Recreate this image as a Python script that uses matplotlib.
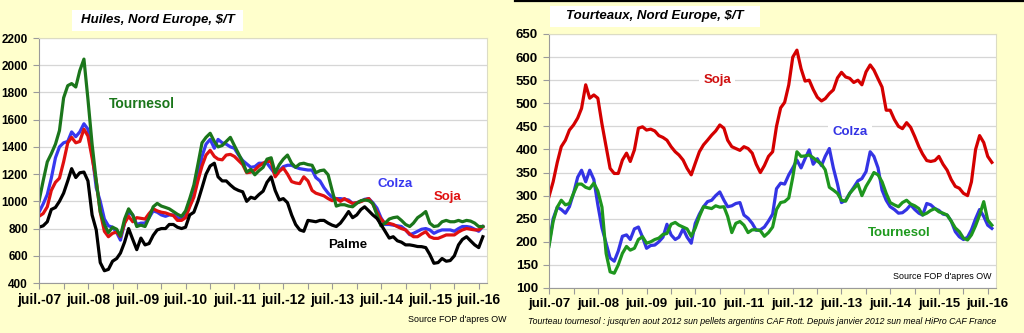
import numpy as np
import pandas as pd
import matplotlib
matplotlib.use("Agg")
import matplotlib.pyplot as plt
from matplotlib.patches import Rectangle
from matplotlib.lines import Line2D

plt.rcParams["font.family"] = ["Liberation Sans", "DejaVu Sans"]

# monthly points, juil.-07 .. août-16
months = pd.date_range("2007-07-01", periods=110, freq="MS")
tick_dates = pd.date_range("2007-07-01", "2016-07-01", freq="6MS")
tick_labels = [f"juil.-{d:%y}" if d.month == 7 else "" for d in tick_dates]

# --- Huiles, $/T ---
tournesol_huile = [1000, 1150, 1290, 1350, 1420, 1520, 1760, 1850, 1865, 1840, 1960, 2045,
                   1750, 1420, 1150, 924, 830, 770, 810, 795, 745, 870, 945, 900,
                   815, 825, 815, 880, 960, 985, 965, 955, 945, 925, 905, 890,
                   930, 1020, 1120, 1270, 1430, 1470, 1500, 1440, 1400, 1410, 1440, 1470,
                   1410, 1350, 1290, 1215, 1235, 1195, 1225, 1250, 1310, 1320, 1210, 1270,
                   1310, 1340, 1280, 1250, 1275, 1280, 1270, 1265, 1210, 1225, 1230, 1195,
                   1080, 965, 975, 975, 965, 960, 985, 1005, 1010, 1005, 985, 900,
                   820, 840, 870, 880, 885, 860, 830, 815, 840, 880, 900, 925,
                   840, 815, 820, 850, 860, 850, 850, 860, 850, 860, 855, 840,
                   815, 815]
colza_huile = [920, 980, 1050, 1170, 1320, 1400, 1430, 1440, 1510, 1475, 1510, 1570,
               1530, 1350, 1100, 1000, 870, 820, 810, 770, 715, 840, 920, 900,
               830, 840, 840, 880, 930, 920, 900, 890, 900, 900, 880, 875,
               900, 970, 1050, 1180, 1330, 1420, 1455, 1390, 1455, 1430, 1420, 1400,
               1390, 1340, 1300, 1275, 1250, 1255, 1280, 1280, 1280, 1240, 1200, 1225,
               1255, 1265, 1265, 1250, 1240, 1235, 1230, 1230, 1175, 1150, 1100, 1060,
               1030, 1020, 1020, 1015, 1010, 985, 990, 1000, 1015, 1020, 990, 950,
               880, 830, 830, 825, 820, 815, 790, 755, 765, 780, 795, 800,
               790, 765, 780, 790, 790, 790, 780, 800, 815, 815, 810, 795,
               780, 815]
soja_huile = [890, 910, 960, 1080, 1140, 1170, 1290, 1430, 1470, 1430, 1440, 1530,
              1480, 1320, 1150, 920, 780, 740, 765, 775, 740, 840, 890, 850,
              880, 875, 870, 910, 945, 930, 920, 915, 905, 895, 860, 860,
              880, 960, 1030, 1150, 1260, 1340, 1375, 1330, 1310, 1305, 1340, 1345,
              1330, 1300, 1270, 1210, 1215, 1230, 1260, 1280, 1295, 1290, 1180, 1220,
              1245, 1200, 1145, 1135, 1130, 1180, 1150, 1080, 1060, 1050, 1040, 1020,
              1005, 1020, 1000, 1020, 1000, 985, 990, 998, 1010, 1020, 980, 920,
              870, 838, 838, 830, 814, 800, 790, 760, 740, 740, 760, 777,
              740, 728, 728, 740, 753, 753, 753, 775, 790, 800, 795, 790,
              790, 814]
palme_huile = [810, 820, 850, 940, 955, 1000, 1060, 1150, 1240, 1175, 1210, 1215,
               1150, 900, 790, 550, 490, 500, 560, 580, 620, 700, 800, 720,
               645, 730, 680, 690, 750, 790, 800, 800, 830, 830, 810, 800,
               810, 900, 920, 1000, 1100, 1200, 1260, 1280, 1180, 1150, 1150, 1120,
               1095, 1080, 1070, 1000, 1030, 1020, 1050, 1075, 1140, 1180, 1080, 1010,
               1020, 990, 900, 830, 790, 780, 860, 855, 850, 860, 860, 840,
               825, 815, 840, 880, 925, 880, 900, 940, 960, 930, 900, 875,
               830, 780, 730, 740, 710, 700, 680, 680, 675, 668, 667, 660,
               610, 545, 550, 580, 560, 565, 600, 680, 720, 740, 710, 680,
               660, 740]

# --- Tourteaux, $/T ---
soja_tourteau = [298, 330, 372, 406, 420, 442, 453, 468, 489, 540, 511, 518,
                 511, 455, 406, 359, 348, 348, 377, 392, 374, 399, 446, 449,
                 442, 444, 440, 430, 426, 420, 406, 395, 388, 377, 359, 345,
                 370, 395, 410, 420, 431, 440, 453, 446, 420, 406, 402, 398,
                 406, 402, 392, 368, 350, 365, 385, 395, 450, 490, 502, 540,
                 600, 615, 575, 548, 550, 530, 513, 505, 510, 521, 529, 555,
                 567, 557, 554, 545, 550, 540, 568, 583, 572, 553, 535, 485,
                 485, 465, 450, 445, 458, 448, 428, 406, 390, 376, 374, 376,
                 385, 368, 355, 335, 320, 316, 305, 300, 330, 400, 430, 415,
                 385, 372]
colza_tourteau = [195, 250, 275, 270, 262, 276, 305, 340, 355, 330, 355, 335,
                  280, 230, 197, 165, 158, 180, 212, 215, 205, 228, 232, 210,
                  186, 192, 193, 200, 210, 238, 215, 205, 210, 228, 210, 197,
                  240, 260, 276, 287, 290, 300, 308, 290, 276, 278, 283, 285,
                  258, 251, 240, 225, 226, 232, 245, 260, 315, 327, 325, 345,
                  360, 377, 360, 380, 399, 368, 380, 365, 385, 402, 360, 325,
                  285, 290, 305, 318, 332, 337, 352, 395, 385, 360, 312, 290,
                  276, 270, 262, 263, 270, 280, 270, 262, 258, 283, 280, 272,
                  268, 260, 258, 245, 222, 211, 205, 210, 226, 250, 270, 255,
                  236, 229]
tournesol_tourteau = [190, 244, 275, 290, 280, 283, 305, 325, 325, 318, 315, 327,
                      310, 275, 175, 135, 132, 150, 175, 190, 182, 186, 205, 211,
                      197, 200, 205, 208, 216, 218, 238, 242, 236, 232, 228, 212,
                      230, 255, 276, 274, 272, 278, 275, 276, 255, 220, 240, 244,
                      236, 220, 226, 226, 224, 212, 220, 232, 270, 285, 287, 295,
                      340, 395, 385, 386, 388, 382, 375, 368, 356, 318, 312, 305,
                      290, 288, 305, 315, 325, 300, 320, 335, 350, 345, 330, 305,
                      285, 280, 276, 285, 290, 282, 278, 272, 258, 262, 268, 272,
                      265, 262, 258, 245, 230, 222, 208, 204, 215, 235, 258, 287,
                      247, 236]

BG = "#FFFFCC"


def style_axes(ax, ylim, ystep, ysize, xsize):
    ax.set_facecolor("white")
    ax.set_xlim(months[0], pd.Timestamp("2016-09-01"))
    ax.set_ylim(*ylim)
    ax.set_yticks(np.arange(ylim[0], ylim[1] + 1, ystep))
    ax.set_xticks(tick_dates)
    ax.set_xticklabels(tick_labels)
    ax.grid(axis="y", color="#d6d6d6", linewidth=0.9)
    ax.set_axisbelow(True)
    for s in ("top", "right"):
        ax.spines[s].set_color("#dcdcc4")
    for s in ("left", "bottom"):
        ax.spines[s].set_color("#9a9a9a")
    ax.tick_params(axis="both", direction="out", length=4, width=0.8, color="#9a9a9a")
    ax.tick_params(axis="y", labelsize=ysize, pad=4)
    ax.tick_params(axis="x", labelsize=xsize, pad=3)
    for lab in ax.get_xticklabels() + ax.get_yticklabels():
        lab.set_fontweight("bold")


def title_box(fig, x0, x1, y0, y1, text):
    W, H = 1024, 333
    fig.patches.append(Rectangle((x0 / W, 1 - y1 / H), (x1 - x0) / W, (y1 - y0) / H,
                                 transform=fig.transFigure, facecolor="white",
                                 edgecolor="none"))
    fig.text((x0 + x1) / 2 / W, 1 - (y0 + y1) / 2 / H, text, ha="center", va="center",
             fontsize=9.5, fontweight="bold", fontstyle="italic")


fig = plt.figure(figsize=(10.24, 3.33), dpi=100, facecolor=BG)

# left panel: oils
ax1 = fig.add_axes([39 / 1024, 50 / 333, 448 / 1024, 245 / 333])
style_axes(ax1, (400, 2200), 200, 8.5, 10)
ax1.plot(months, colza_huile, color="#3838F0", lw=2.3)
ax1.plot(months, soja_huile, color="#E01010", lw=2.3)
ax1.plot(months, tournesol_huile, color="#1B761B", lw=2.3)
ax1.plot(months, palme_huile, color="black", lw=2.3)
ax1.text(0.23, 0.73, "Tournesol", transform=ax1.transAxes, color="#1B761B",
         fontsize=10, fontweight="bold", ha="center", va="center")
ax1.text(0.795, 0.404, "Colza", transform=ax1.transAxes, color="#3838F0",
         fontsize=9.5, fontweight="bold", ha="center", va="center")
ax1.text(0.911, 0.351, "Soja", transform=ax1.transAxes, color="#E01010",
         fontsize=9.5, fontweight="bold", ha="center", va="center")
ax1.text(0.69, 0.155, "Palme", transform=ax1.transAxes, color="black",
         fontsize=9.5, fontweight="bold", ha="center", va="center")
fig.text(507 / 1024, 14 / 333, "Source FOP d'apres OW", ha="right", va="center",
         fontsize=6.4)
title_box(fig, 72, 243, 10, 31, "Huiles, Nord Europe, $/T")

# right panel: meals
ax2 = fig.add_axes([549 / 1024, 45 / 333, 447 / 1024, 254 / 333])
style_axes(ax2, (100, 650), 50, 9.5, 9.5)
ax2.plot(months, soja_tourteau, color="#D40000", lw=2.3)
ax2.plot(months, colza_tourteau, color="#3434E4", lw=2.3)
ax2.plot(months, tournesol_tourteau, color="#1E961E", lw=2.3)
lab_box = dict(facecolor="white", edgecolor="none", pad=3)
ax2.text(0.376, 0.819, "Soja", transform=ax2.transAxes, color="#D01010",
         fontsize=9.5, fontweight="bold", ha="center", va="center", bbox=lab_box)
ax2.text(0.673, 0.614, "Colza", transform=ax2.transAxes, color="#3434E4",
         fontsize=9.5, fontweight="bold", ha="center", va="center", bbox=lab_box)
ax2.text(0.783, 0.217, "Tournesol", transform=ax2.transAxes, color="#1E9A1E",
         fontsize=9.5, fontweight="bold", ha="center", va="center")
ax2.text(0.989, 0.047, "Source FOP d'apres OW", transform=ax2.transAxes,
         ha="right", va="center", fontsize=6.4)
fig.text(528 / 1024, 11 / 333,
         "Tourteau tournesol : jusqu'en aout 2012 sun pellets argentins CAF Rott. "
         "Depuis janvier 2012 sun meal HiPro CAF France",
         ha="left", va="center", fontsize=6.3, fontstyle="italic")
title_box(fig, 550, 760, 6, 27, "Tourteaux, Nord Europe, $/T")

# black rule along the top of the right panel
fig.add_artist(Line2D([515 / 1024, 1], [1 - 1 / 333, 1 - 1 / 333],
                      transform=fig.transFigure, color="black", lw=1.6))

fig.savefig("out.png", dpi=100, facecolor=BG)
